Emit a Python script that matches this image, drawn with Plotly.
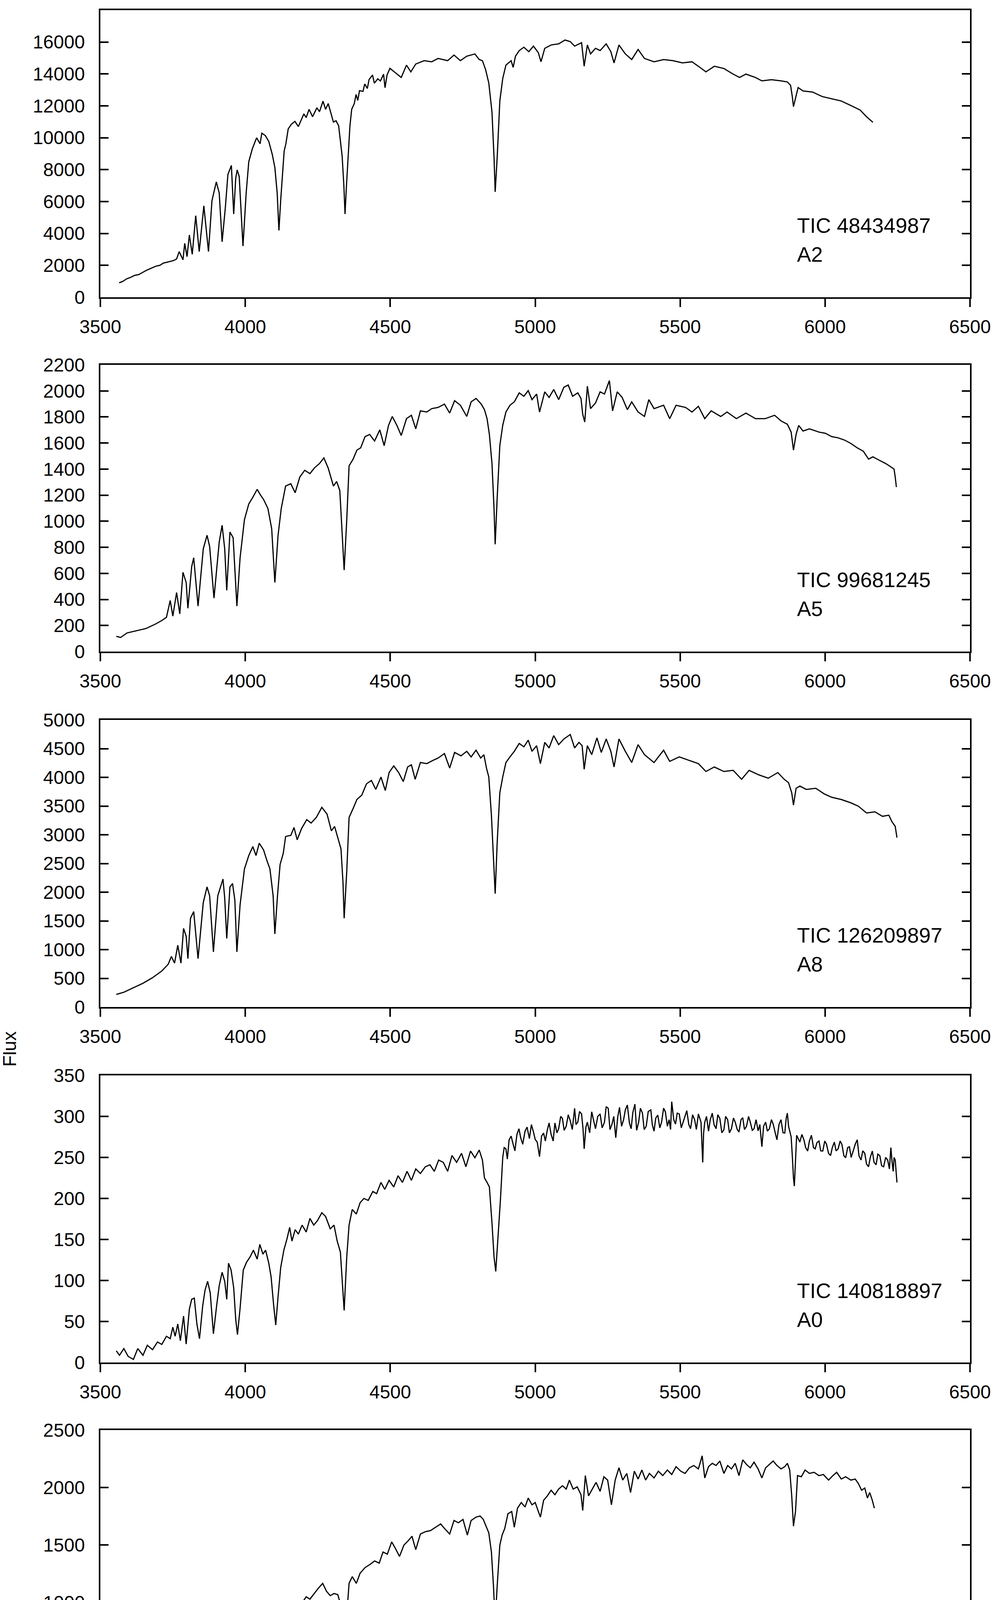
import plotly.graph_objects as go

# ---------------- data ----------------
tic_labels = ["TIC 48434987", "TIC 99681245", "TIC 126209897",
              "TIC 140818897", "TIC 145812196", "TIC 155018386"]
sp_types = ["A2", "A5", "A8", "A0", "A8", "A5"]
y_max = [18000, 2200, 5000, 350, 2500, 1200]
y_step = [2000, 200, 500, 50, 500, 200]
x_ticks = [3500, 4000, 4500, 5000, 5500, 6000, 6500]

wl1 = [3565, 3578, 3590, 3605, 3618, 3632, 3645, 3660, 3678, 3692, 3705, 3718, 3726, 3740, 3752, 3763,
       3772, 3785, 3791, 3799, 3807, 3817, 3829, 3841, 3857, 3873, 3885, 3900, 3910, 3920, 3931, 3940,
       3952, 3960, 3967, 3972, 3979, 3992, 4003, 4012, 4024, 4039, 4051, 4057, 4069, 4081, 4093, 4102,
       4110, 4116, 4122, 4134, 4140, 4148, 4159, 4171, 4183, 4202, 4210, 4220, 4232, 4247, 4256, 4268,
       4277, 4286, 4295, 4304, 4313, 4322, 4328, 4334, 4340, 4344, 4349, 4355, 4361, 4367, 4376, 4382,
       4388, 4394, 4406, 4412, 4421, 4427, 4439, 4445, 4457, 4466, 4477, 4482, 4489, 4499, 4523, 4538,
       4556, 4571, 4588, 4617, 4643, 4665, 4698, 4720, 4742, 4764, 4792, 4807, 4818, 4829, 4840, 4851,
       4858, 4862, 4869, 4878, 4888, 4899, 4917, 4924, 4932, 4945, 4961, 4978, 4994, 5011, 5020, 5033,
       5055, 5081, 5103, 5121, 5136, 5151, 5160, 5169, 5180, 5191, 5208, 5224, 5245, 5261, 5272, 5289,
       5311, 5333, 5355, 5377, 5410, 5443, 5475, 5508, 5541, 5563, 5589, 5618, 5651, 5683, 5705, 5727,
       5760, 5782, 5815, 5848, 5870, 5881, 5887, 5891, 5898, 5907, 5924, 5957, 5990, 6023, 6056, 6089,
       6121, 6143, 6165]
fl1 = [906, 1000, 1150, 1250, 1371, 1420, 1550, 1700, 1837, 1950, 2000, 2150, 2180, 2250, 2300, 2400,
       2865, 2350, 3380, 2547, 3904, 2694, 5118, 2865, 5731, 2865, 6059, 7232, 6539, 3478, 5591, 7700,
       8263, 5216, 7470, 7984, 7567, 3208, 6539, 8498, 9294, 9997, 9625, 10286, 10139, 9771, 8963, 8130,
       6539, 4188, 6059, 9160, 9625, 10555, 10849, 11028, 10702, 11495, 11266, 11780, 11315, 11878, 11633, 12294,
       11780, 12147, 11584, 10981, 11069, 10751, 9808, 8865, 7004, 5216, 7004, 8865, 10751, 11780, 12147, 12710,
       12343, 12955, 12906, 13371, 13090, 13651, 13935, 13420, 13697, 13557, 13984, 13136, 13935, 14351, 13990, 13779,
       14552, 14130, 14622, 14833, 14763, 14974, 14833, 15185, 14833, 15114, 15255, 14904, 14833, 14270, 13427, 11600,
       8788, 6608, 8788, 12303, 13709, 14552, 14833, 14411, 15114, 15466, 15677, 15396, 15747, 15325, 14763, 15607,
       15818, 15888, 16127, 16028, 15747, 15888, 15958, 14482, 15818, 15255, 15607, 15466, 15888, 15396, 14693, 15818,
       15255, 14904, 15536, 14974, 14763, 14904, 14833, 14693, 14763, 14482, 14130, 14482, 14341, 13990, 13779, 13990,
       13779, 13568, 13638, 13568, 13498, 13287, 12584, 11951, 12443, 13146, 12935, 12865, 12584, 12443, 12303, 12021,
       11740, 11318, 10967]

wl2 = [3555, 3570, 3592, 3625, 3658, 3691, 3712, 3728, 3741, 3750, 3763, 3774, 3785, 3796, 3802, 3815,
       3822, 3837, 3855, 3868, 3877, 3892, 3910, 3920, 3929, 3936, 3947, 3958, 3971, 3982, 3997, 4012,
       4026, 4041, 4052, 4063, 4078, 4091, 4102, 4113, 4124, 4139, 4157, 4172, 4188, 4205, 4223, 4238,
       4256, 4271, 4286, 4304, 4315, 4326, 4334, 4341, 4350, 4358, 4372, 4385, 4398, 4413, 4429, 4446,
       4464, 4479, 4494, 4507, 4523, 4538, 4556, 4573, 4588, 4604, 4626, 4643, 4665, 4687, 4705, 4722,
       4742, 4764, 4779, 4796, 4814, 4825, 4834, 4842, 4851, 4858, 4862, 4869, 4878, 4888, 4899, 4913,
       4928, 4945, 4961, 4976, 4989, 5005, 5015, 5033, 5048, 5064, 5081, 5099, 5114, 5129, 5147, 5158,
       5164, 5171, 5180, 5191, 5208, 5224, 5239, 5256, 5267, 5283, 5300, 5318, 5333, 5355, 5377, 5392,
       5410, 5443, 5464, 5486, 5519, 5541, 5563, 5585, 5607, 5640, 5662, 5694, 5727, 5760, 5793, 5826,
       5848, 5870, 5883, 5891, 5900, 5909, 5924, 5946, 5979, 6001, 6023, 6045, 6067, 6089, 6111, 6132,
       6150, 6165, 6187, 6209, 6227, 6238, 6242, 6246]
fl2 = [117, 108, 143, 160, 177, 212, 238, 263, 392, 272, 453, 289, 608, 530, 332, 651,
       720, 349, 788, 892, 806, 410, 840, 969, 788, 470, 917, 874, 349, 720, 1012, 1133,
       1184, 1245, 1202, 1167, 1098, 943, 530, 892, 1098, 1270, 1288, 1219, 1339, 1391, 1365, 1408,
       1443, 1486, 1408, 1270, 1305, 1236, 926, 625, 1012, 1425, 1477, 1546, 1563, 1649, 1666, 1615,
       1701, 1580, 1735, 1804, 1735, 1658, 1787, 1813, 1709, 1847, 1838, 1864, 1873, 1899, 1830, 1925,
       1890, 1804, 1916, 1942, 1899, 1856, 1787, 1666, 1443, 1098, 823, 1184, 1580, 1735, 1838, 1890,
       1916, 1985, 1959, 2002, 1933, 1976, 1838, 1993, 1950, 2011, 1933, 2028, 2045, 1959, 1985, 1942,
       1821, 1761, 2036, 1864, 1907, 1993, 1976, 2079, 1847, 1993, 1950, 1856, 1916, 1838, 1804, 1933,
       1864, 1890, 1787, 1890, 1873, 1838, 1882, 1787, 1847, 1804, 1838, 1787, 1830, 1787, 1787, 1813,
       1770, 1744, 1684, 1546, 1666, 1735, 1692, 1709, 1684, 1675, 1649, 1640, 1623, 1597, 1563, 1537,
       1477, 1494, 1468, 1443, 1417, 1400, 1339, 1262]

wl3 = [3555, 3581, 3614, 3647, 3680, 3712, 3734, 3745, 3756, 3767, 3778, 3787, 3796, 3802, 3811, 3822,
       3837, 3855, 3868, 3877, 3890, 3905, 3923, 3929, 3936, 3947, 3956, 3964, 3971, 3982, 3997, 4012,
       4026, 4037, 4048, 4063, 4074, 4085, 4096, 4102, 4111, 4120, 4131, 4139, 4157, 4168, 4179, 4194,
       4212, 4227, 4245, 4264, 4282, 4297, 4308, 4319, 4330, 4337, 4341, 4350, 4358, 4372, 4385, 4402,
       4418, 4435, 4450, 4468, 4483, 4496, 4512, 4529, 4545, 4560, 4573, 4586, 4604, 4626, 4648, 4665,
       4687, 4705, 4722, 4744, 4764, 4779, 4796, 4812, 4823, 4832, 4840, 4849, 4856, 4862, 4869, 4878,
       4888, 4899, 4913, 4928, 4945, 4961, 4976, 4989, 5005, 5018, 5033, 5048, 5064, 5081, 5099, 5121,
       5136, 5151, 5162, 5169, 5180, 5195, 5213, 5228, 5245, 5261, 5272, 5289, 5311, 5333, 5355, 5377,
       5410, 5443, 5464, 5497, 5530, 5563, 5589, 5618, 5651, 5683, 5712, 5738, 5771, 5804, 5837, 5859,
       5874, 5885, 5891, 5900, 5913, 5935, 5968, 5997, 6023, 6056, 6089, 6115, 6143, 6172, 6198, 6220,
       6231, 6242, 6248]
fl3 = [219, 258, 336, 414, 511, 628, 745, 882, 765, 1077, 765, 1370, 1233, 843, 1546, 1663,
       843, 1819, 2092, 1936, 960, 1936, 2229, 1897, 1194, 2092, 2151, 1858, 960, 1780, 2404, 2638,
       2795, 2638, 2853, 2736, 2560, 2404, 1936, 1272, 1936, 2482, 2677, 2970, 2990, 3126, 2912, 3107,
       3263, 3204, 3302, 3478, 3360, 3068, 3146, 2951, 2755, 2170, 1546, 2365, 3302, 3458, 3614, 3692,
       3887, 3946, 3790, 4005, 3770, 4083, 4200, 4083, 3926, 4180, 4219, 3966, 4258, 4239, 4297, 4336,
       4414, 4161, 4434, 4375, 4453, 4356, 4473, 4336, 4395, 4161, 4005, 3341, 2560, 1975, 2873, 3731,
       4005, 4258, 4356, 4453, 4590, 4531, 4648, 4453, 4551, 4239, 4609, 4512, 4727, 4570, 4668, 4746,
       4512, 4609, 4551, 4141, 4551, 4395, 4688, 4434, 4668, 4453, 4180, 4668, 4453, 4258, 4570, 4395,
       4258, 4473, 4278, 4356, 4297, 4239, 4102, 4180, 4102, 4122, 3966, 4122, 4044, 3985, 4083, 3966,
       3907, 3731, 3517, 3809, 3848, 3790, 3809, 3712, 3653, 3614, 3556, 3497, 3380, 3400, 3321, 3341,
       3224, 3146, 2951]

wl4 = [3555, 3566, 3581, 3596, 3614, 3629, 3647, 3662, 3680, 3697, 3712, 3728, 3741, 3750, 3758, 3767,
       3776, 3787, 3796, 3807, 3815, 3824, 3833, 3842, 3853, 3861, 3870, 3879, 3890, 3901, 3910, 3920,
       3929, 3936, 3942, 3951, 3960, 3967, 3973, 3982, 3993, 4004, 4017, 4028, 4041, 4050, 4061, 4070,
       4081, 4089, 4098, 4105, 4113, 4122, 4133, 4144, 4153, 4161, 4172, 4183, 4196, 4210, 4223, 4236,
       4249, 4264, 4277, 4293, 4306, 4317, 4328, 4334, 4341, 4350, 4358, 4369, 4383, 4396, 4409, 4424,
       4440, 4453, 4468, 4481, 4496, 4512, 4527, 4542, 4558, 4573, 4588, 4604, 4621, 4637, 4652, 4667,
       4683, 4698, 4713, 4729, 4746, 4761, 4777, 4792, 4807, 4818, 4825, 4834, 4842, 4851, 4858, 4864,
       4871, 4880,
       4888, 4893, 4899, 4904, 4910, 4917, 4924, 4930, 4937, 4944, 4950, 4957, 4965, 4972, 4980, 4987,
       4994, 5000, 5007, 5015, 5022, 5029, 5035, 5042, 5048, 5055, 5062, 5068, 5075, 5081, 5088, 5094,
       5100, 5107, 5114, 5121, 5128, 5136, 5141, 5147, 5153, 5160, 5165, 5169, 5175, 5180, 5188, 5195,
       5201, 5208, 5216, 5224, 5231, 5239, 5245, 5252, 5258, 5265, 5271, 5278, 5285, 5291, 5298, 5305,
       5311, 5318, 5325, 5331, 5337, 5344, 5350, 5357, 5363, 5370, 5376, 5383, 5390, 5399, 5404, 5410,
       5416, 5423, 5430, 5436, 5443, 5449, 5456, 5462, 5467, 5471, 5478, 5484, 5490, 5497, 5504, 5510,
       5516, 5523, 5530, 5536, 5543, 5550, 5556, 5563, 5572, 5575, 5578, 5581, 5585, 5591, 5598, 5604,
       5611, 5617, 5624, 5630, 5637, 5644, 5651, 5657, 5664, 5670, 5677, 5684, 5690, 5697, 5703, 5710,
       5716, 5722, 5729, 5736, 5742, 5749, 5755, 5762, 5769, 5775, 5782, 5788, 5795, 5801, 5808, 5815,
       5821, 5828, 5834, 5841, 5848, 5855, 5861, 5866, 5870, 5874, 5878, 5883, 5887, 5891, 5894, 5898,
       5902, 5913, 5920, 5927, 5933, 5940, 5946, 5953, 5960, 5966, 5972, 5979, 5985, 5992, 5999, 6005,
       6012, 6019, 6025, 6032, 6038, 6045, 6052, 6058, 6065, 6071, 6078, 6084, 6090, 6097, 6104, 6111,
       6117, 6124, 6130, 6137, 6143, 6150, 6156, 6163, 6169, 6176, 6182, 6189, 6195, 6202, 6209, 6216,
       6222, 6227, 6231, 6235, 6238, 6242, 6245, 6248]
fl4 = [14.2, 8.8, 17, 7.4, 3.8, 17, 8.8, 21, 15.6, 25, 22, 32, 29, 43, 32, 47,
       26.5, 56.6, 22.4, 64.9, 77, 78.5, 47, 29, 69, 88, 99, 85, 35, 69, 93.6, 110,
       99, 77, 121, 112.7, 91, 52.5, 34, 66, 112.7, 122, 129, 137, 126, 144, 132, 137,
       121, 104.5, 69, 45.7, 80, 115.5, 137, 151, 164.7, 148, 162, 156.5, 167.5, 159, 175.7, 167.5,
       173, 182.5, 178, 163, 167.5, 148, 134.6, 101.8, 63.5, 129, 167.5, 186.6, 181, 194.8, 200, 197.6,
       208.5, 205.8, 219.5, 211, 222, 214, 227.7, 219.5, 233, 222, 236, 230.4, 238.6, 241, 233, 246.8,
       244, 233, 252.3, 244, 255, 238.6, 257.8, 249.6, 259, 246.8, 225, 219.5, 214, 170, 129, 111,
       151, 197.6,
       249.6, 262, 260.5, 248, 271.5, 276, 266, 258, 278, 285, 274, 266, 282, 287, 273, 290,
       281, 272, 268.7, 251, 276, 279.7, 270, 283.8, 292, 278, 270, 292, 280, 285, 300, 297.5,
       283, 288, 302, 294.7, 284, 309.8, 290, 293, 306, 303, 285, 260.5, 287, 293, 280, 305.7,
       296, 285, 300, 303, 286, 293, 312, 309.8, 284, 290.6, 300, 274, 300, 311, 288, 296,
       308, 313.9, 292, 285, 305, 315, 283, 293, 310, 304, 284, 288, 306, 308, 290, 282,
       298, 301.6, 286, 293, 310, 305.7, 288, 296, 284, 318, 296, 290.6, 304, 303, 286, 293,
       300, 307, 290, 285, 302, 296, 284, 303, 293, 270, 244, 280, 293, 300, 282, 296,
       304, 290, 285, 302, 297.5, 280, 283.8, 300, 296, 280, 285, 298, 293, 284, 281, 296,
       298.5, 284, 288, 300, 293, 283, 285, 296, 282.4, 290, 263, 288, 293, 282, 285, 296,
       290.6, 280, 271.5, 290, 296, 280, 279.7, 298, 304, 288, 282.4, 275, 252, 225, 215, 245,
       277, 268.7, 278, 271.5, 262, 257.8, 270, 277, 262, 260.5, 268, 270, 258, 257.8, 270, 266,
       255, 252.3, 262, 268.7, 258, 260.5, 270, 266, 252, 249.6, 262, 263, 250, 257.8, 266, 271.5,
       252, 246.8, 258, 255, 242, 238.6, 250, 257.8, 244, 241, 254, 252, 240, 238.6, 250, 246.8,
       236, 262, 245, 233, 250, 246.8, 232, 219.5]

wl5 = [3555, 3581, 3614, 3647, 3680, 3706, 3723, 3739, 3750, 3758, 3767, 3776, 3787, 3796, 3802, 3813,
       3822, 3831, 3839, 3850, 3861, 3870, 3879, 3890, 3901, 3912, 3920, 3929, 3936, 3945, 3956, 3964,
       3971, 3982, 3995, 4008, 4019, 4030, 4043, 4054, 4065, 4078, 4089, 4098, 4104, 4113, 4122, 4133,
       4142, 4155, 4166, 4179, 4194, 4210, 4223, 4238, 4253, 4267, 4280, 4293, 4306, 4319, 4328, 4334,
       4341, 4350, 4358, 4369, 4383, 4396, 4413, 4431, 4446, 4462, 4475, 4490, 4505, 4518, 4532, 4547,
       4562, 4575, 4588, 4604, 4621, 4639, 4656, 4674, 4687, 4705, 4720, 4735, 4751, 4766, 4779, 4796,
       4810, 4821, 4832, 4840, 4849, 4856, 4862, 4869, 4878, 4886, 4895, 4906, 4919, 4928, 4939, 4952,
       4965, 4976, 4989, 5000, 5011, 5018, 5029, 5042, 5055, 5068, 5081, 5094, 5107, 5118, 5131, 5145,
       5158, 5164, 5173, 5184, 5197, 5210, 5224, 5237, 5250, 5263, 5276, 5289, 5302, 5316, 5329, 5342,
       5355, 5368, 5381, 5394, 5410, 5425, 5440, 5456, 5471, 5486, 5502, 5517, 5532, 5547, 5563, 5576,
       5585, 5598, 5611, 5624, 5637, 5651, 5664, 5677, 5690, 5703, 5716, 5729, 5742, 5755, 5769, 5782,
       5795, 5808, 5821, 5834, 5848, 5861, 5870, 5878, 5885, 5891, 5898, 5905, 5918, 5931, 5946, 5962,
       5979, 5994, 6012, 6027, 6040, 6056, 6071, 6089, 6104, 6115, 6126, 6137, 6146, 6154, 6163, 6170]
fl5 = [55, 74, 103, 123, 142, 172, 201, 230, 279, 211, 289, 211, 377, 367, 220, 416,
       435, 367, 211, 445, 552, 582, 504, 289, 484, 601, 621, 523, 279, 582, 601, 484,
       220, 464, 708, 796, 826, 786, 845, 826, 796, 767, 699, 562, 406, 640, 777, 835,
       972, 943, 952, 884, 991, 1050, 1030, 1079, 1128, 1167, 1099, 1060, 1079, 1069, 991, 855,
       543, 894, 1167, 1226, 1167, 1255, 1304, 1333, 1362, 1343, 1440, 1421, 1528, 1470, 1401, 1499,
       1538, 1577, 1460, 1596, 1616, 1626, 1655, 1684, 1645, 1596, 1714, 1694, 1723, 1587, 1714, 1743,
       1753, 1723, 1655, 1606, 1440, 1148, 835, 1148, 1499, 1587, 1645, 1772, 1792, 1655, 1821, 1870,
       1831, 1909, 1850, 1870, 1792, 1743, 1889, 1928, 1977, 1938, 1987, 2016, 1987, 2065, 1987, 2006,
       1938, 1801, 2104, 1928, 1987, 2045, 1967, 2094, 2065, 1850, 2065, 2172, 2065, 2123, 1957, 2143,
       2074, 2153, 2065, 2123, 2084, 2143, 2104, 2153, 2114, 2182, 2143, 2123, 2172, 2192, 2162, 2276,
       2084, 2182, 2211, 2192, 2231, 2123, 2192, 2162, 2211, 2104, 2241, 2201, 2172, 2221, 2162, 2084,
       2172, 2201, 2231, 2192, 2162, 2182, 2211, 2153, 1928, 1665, 1792, 2104, 2094, 2153, 2123, 2133,
       2104, 2114, 2065, 2104, 2133, 2074, 2094, 2065, 2074, 2035, 1977, 1996, 1909, 1957, 1889, 1821]

wl6 = [3555, 3570, 3592, 3614, 3636, 3658, 3680, 3701, 3719, 3734, 3745, 3758, 3769, 3780, 3789, 3796,
       3802, 3811, 3820, 3828, 3839, 3850, 3861, 3870, 3879, 3890, 3901, 3912, 3923, 3931, 3936, 3945,
       3953, 3962, 3973, 3982, 3993, 4004, 4015, 4026, 4034, 4043, 4054, 4065, 4076, 4087, 4096, 4102,
       4111, 4120, 4131, 4139, 4153, 4166, 4177, 4190, 4205, 4218, 4231, 4245, 4258, 4271, 4284, 4293,
       4304, 4315, 4326, 4334, 4341, 4350, 4358, 4369, 4378, 4387, 4398, 4409, 4420, 4433, 4446, 4459,
       4472, 4485, 4496, 4510, 4521, 4532, 4545, 4558, 4571, 4584, 4597, 4610, 4626, 4641, 4656, 4670,
       4683, 4696, 4709, 4722, 4735, 4748, 4761, 4775, 4788, 4796, 4805, 4818, 4827, 4836, 4845, 4853,
       4862, 4869, 4875, 4884, 4895, 4906, 4919, 4928, 4939, 4950, 4963, 4976, 4989, 5002, 5015, 5029,
       5042, 5055, 5068, 5081, 5094, 5107, 5121, 5134, 5147, 5158, 5169, 5180, 5191, 5204, 5217, 5230,
       5243, 5256, 5267, 5278, 5291, 5305, 5318, 5331, 5344, 5357, 5370, 5383, 5399, 5414, 5432, 5449,
       5464, 5480, 5497, 5515, 5530, 5545, 5563, 5578, 5589, 5607, 5624, 5640, 5655, 5672, 5690, 5705,
       5720, 5738, 5753, 5771, 5786, 5804, 5821, 5839, 5852, 5865, 5876, 5885, 5891, 5898, 5907, 5920,
       5935, 5951, 5968, 5984, 6001, 6016, 6032, 6049, 6067, 6084, 6100, 6111, 6126, 6141, 6159, 6176,
       6194, 6211, 6224, 6233, 6242, 6248]
fl6 = [47, 33.5, 54, 65, 70, 86, 96, 112, 122.5, 143, 128, 180, 138, 206, 253, 227,
       154, 269, 306, 259, 159, 306, 353, 379, 348, 190.6, 316, 400, 405, 342, 227, 384,
       410, 353, 175, 300, 426, 499, 515, 547, 520, 562, 552, 536, 489, 473, 405, 264,
       405, 499, 531, 615, 604, 630, 594, 646, 636, 688, 672, 698, 677, 725, 719, 657,
       672, 646, 594, 489, 342, 510, 688, 719, 704, 761, 782, 772, 814, 829, 819, 834,
       850, 866, 887, 908, 887, 850, 876, 918, 934, 876, 924, 934, 924, 950, 939, 971,
       955, 971, 924, 981, 965, 986, 944, 981, 971, 1002, 965, 971, 939, 908, 803, 636,
       442, 615, 782, 876, 913, 971, 986, 913, 992, 1044, 1013, 1023, 971, 1013, 939, 1023,
       1013, 1065, 1002, 1044, 1013, 1049, 1023, 1002, 1034, 1013, 924, 1054, 960, 1002, 981, 1039,
       992, 1034, 918, 1002, 1023, 981, 1013, 908, 1002, 1034, 981, 1007, 971, 950, 981, 1002,
       950, 971, 960, 981, 929, 960, 950, 908, 887, 939, 950, 918, 929, 876, 918, 908,
       887, 929, 887, 850, 897, 887, 903, 882, 887, 876, 861, 824, 730, 782, 850, 834,
       861, 834, 824, 814, 803, 814, 782, 803, 798, 782, 814, 761, 777, 740, 751, 756,
       740, 746, 725, 746, 709, 693]

wavelengths = [wl1, wl2, wl3, wl4, wl5, wl6]
fluxes = [fl1, fl2, fl3, fl4, fl5, fl6]

# ---------------- layout geometry ----------------
# the page body adds an 8 px margin, so the figure is 8 px smaller and
# all pixel positions below are page positions minus that offset
OFF = 8
W, H = 2548 - OFF, 5423 - OFF
panel_px = [(26, 761), (934, 1668), (1843, 2578), (2753, 3488), (3661, 4397), (4571, 5246)]
PLOT_L, PLOT_R = 257 - OFF, 2484 - OFF

FONT = "Liberation Sans, Arial, Helvetica, sans-serif"
LW = 4
TICKLEN = 21

fig = go.Figure()
layout = dict(
    width=W, height=H,
    margin=dict(l=PLOT_L, r=W - PLOT_R, t=0, b=0, pad=0),
    paper_bgcolor="white", plot_bgcolor="white",
    showlegend=False,
    font=dict(family=FONT, size=48, color="black"),
    template="none",
)
annotations = []

for i in range(6):
    n = i + 1
    sfx = "" if n == 1 else str(n)
    fig.add_trace(go.Scatter(
        x=wavelengths[i], y=fluxes[i], mode="lines",
        line=dict(color="black", width=3),
        xaxis="x" + sfx, yaxis="y" + sfx, hoverinfo="skip"))
    top, bot = panel_px[i]
    dom = [1 - (bot - OFF) / H, 1 - (top - OFF) / H]
    layout["xaxis" + sfx] = dict(
        domain=[0, 1], range=[3500, 6500], anchor="y" + sfx,
        tickmode="array", tickvals=x_ticks, ticktext=[str(v) for v in x_ticks],
        ticks="outside", ticklen=TICKLEN, tickwidth=LW, tickcolor="black",
        showline=True, linewidth=LW, linecolor="black", mirror=True,
        showgrid=False, zeroline=False, automargin=False,
        tickfont=dict(family=FONT, size=48, color="black"),
        ticklabelstandoff=9,
    )
    layout["yaxis" + sfx] = dict(
        domain=dom, range=[0, y_max[i]], anchor="x" + sfx,
        tickmode="linear", tick0=0, dtick=y_step[i], tickformat="d",
        ticks="inside", ticklen=TICKLEN, tickwidth=LW, tickcolor="black",
        showline=True, linewidth=LW, linecolor="black", mirror="ticks",
        showgrid=False, zeroline=False, automargin=False,
        tickfont=dict(family=FONT, size=48, color="black"),
        ticklabelstandoff=26,
    )
    # top axis: inward ticks only
    layout["xaxis" + str(n + 6)] = dict(
        overlaying="x" + sfx, anchor="y" + sfx, side="top",
        range=[3500, 6500], tickmode="array", tickvals=x_ticks,
        ticks="inside", ticklen=TICKLEN, tickwidth=LW, tickcolor="black",
        showticklabels=False, showline=False, showgrid=False, zeroline=False,
        automargin=False,
    )
    annotations.append(dict(
        text=tic_labels[i], xref="x" + sfx, yref="y" + sfx + " domain",
        x=5900, y=0.25, xanchor="left", yanchor="middle", showarrow=False,
        font=dict(family=FONT, size=54, color="black")))
    annotations.append(dict(
        text=sp_types[i], xref="x" + sfx, yref="y" + sfx + " domain",
        x=5900, y=0.15, xanchor="left", yanchor="middle", showarrow=False,
        font=dict(family=FONT, size=54, color="black")))

plot_w = PLOT_R - PLOT_L
annotations.append(dict(
    text="Flux", xref="paper", yref="paper", x=(24 - 257) / plot_w,
    y=1 - (2686 - OFF) / H, xanchor="center", yanchor="middle", textangle=-90,
    showarrow=False, font=dict(family=FONT, size=48, color="black")))
annotations.append(dict(
    text="Wavelength [Å]", xref="paper", yref="paper", x=0.5,
    y=1 - (5398 - OFF) / H, xanchor="center", yanchor="middle", showarrow=False,
    font=dict(family=FONT, size=48, color="black")))

layout["annotations"] = annotations
fig.update_layout(**layout)
fig.write_html("out.html")
